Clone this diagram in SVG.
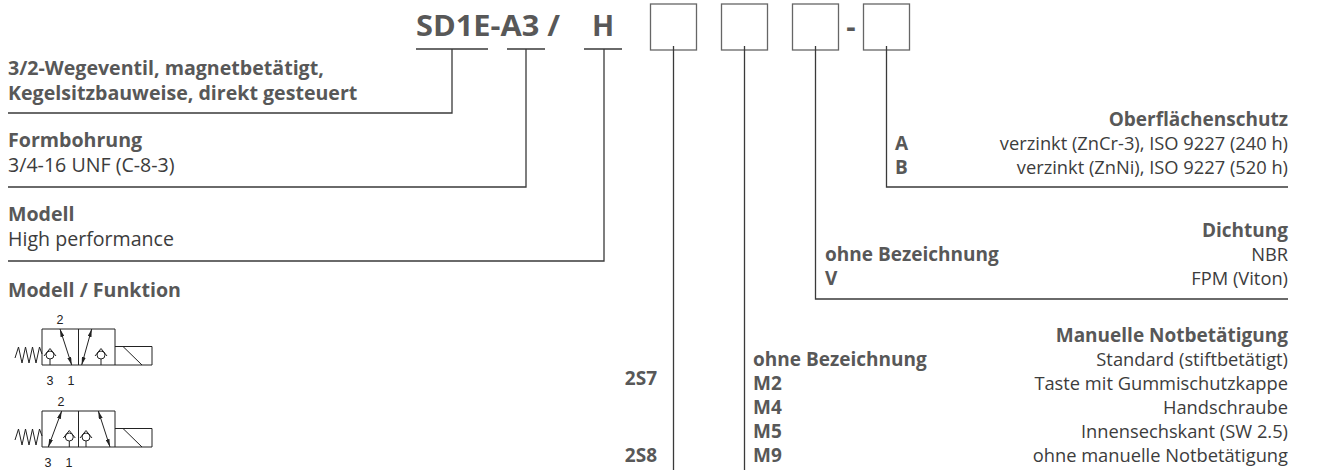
<svg xmlns="http://www.w3.org/2000/svg" width="1340" height="470" viewBox="0 0 1340 470">
<style>
.b{font-family:"Open Sans","Liberation Sans",sans-serif;font-weight:700;font-size:19px;fill:#585858}
.r{font-family:"Open Sans","Liberation Sans",sans-serif;font-weight:400;font-size:18.3px;fill:#3c3c3c}
.L{font-size:19.6px}
.e{text-anchor:end}
.t{font-family:"Open Sans","Liberation Sans",sans-serif;font-weight:700;font-size:29px;fill:#585858}
.n{font-family:"Liberation Sans",Arial,sans-serif;font-size:12.5px;fill:#222;text-anchor:middle}
.box{fill:none;stroke:#666;stroke-width:1.3}
.ln{fill:none;stroke:#3a3a3a;stroke-width:1.3}
.sy{fill:none;stroke:#222;stroke-width:1}
.ar{fill:none;stroke:#222;stroke-width:1;marker-start:url(#ah);marker-end:url(#ah)}
</style>
<defs>
<marker id="ah" viewBox="0 0 8 4" refX="8" refY="2" markerWidth="8" markerHeight="4" markerUnits="userSpaceOnUse" orient="auto-start-reverse">
<path d="M0,0 L8,2 L0,4 z" fill="#222"/>
</marker>
<g id="cv">
<circle cx="0" cy="0" r="4" fill="#fff" stroke="#222" stroke-width="1"/>
<path d="M-6,1 L0,-6.5 L6,1" fill="none" stroke="#222" stroke-width="1"/>
</g>
</defs>
<rect width="1340" height="470" fill="#fff"/>

<g id="code">
<text class="t" x="416" y="36" textLength="144" lengthAdjust="spacingAndGlyphs">SD1E-A3 /</text>
<text class="t" x="603" y="36" text-anchor="middle">H</text>
<text class="t" x="851" y="37" text-anchor="middle">-</text>
</g>

<g id="boxes">
<rect id="box1" class="box" x="650.5" y="4" width="46" height="46"/>
<rect id="box2" class="box" x="721.5" y="4" width="46" height="46"/>
<rect id="box3" class="box" x="792.5" y="4" width="46" height="46"/>
<rect id="box4" class="box" x="863.5" y="4" width="46" height="46"/>
</g>

<g id="connectors">
<path class="ln" d="M416,49 H488 M507,49 H545 M584,49 H622"/>
<path class="ln" d="M452,49 V113 H8"/>
<path class="ln" d="M526,49 V187 H8"/>
<path class="ln" d="M604,49 V261 H8"/>
<path class="ln" d="M673.5,46 V470"/>
<path class="ln" d="M744.5,46 V470"/>
<path class="ln" d="M815.5,46 V299 H1288"/>
<path class="ln" d="M886.5,46 V187 H1288"/>
</g>

<g id="baureihe">
<text class="b L" x="8" y="75">3/2-Wegeventil, magnetbetätigt,</text>
<text class="b L" x="8" y="100">Kegelsitzbauweise, direkt gesteuert</text>
</g>
<g id="formbohrung">
<text class="b L" x="8" y="147">Formbohrung</text>
<text class="r L" x="8" y="172">3/4-16 UNF (C-8-3)</text>
</g>
<g id="modell">
<text class="b L" x="8" y="221">Modell</text>
<text class="r L" x="8" y="246">High performance</text>
</g>
<g id="funktion">
<text class="b L" x="8" y="297">Modell / Funktion</text>
<text class="b e" x="657" y="385">2S7</text>
<text class="b e" x="657" y="462">2S8</text>
</g>

<g id="sym2s7">
<path class="sy" d="M42,329 H115 V365 H42 Z M78.5,329 V365"/>
<path class="sy" d="M115,346.5 H152 V365 H115 M123,346.5 L142,365"/>
<polyline class="sy" points="15,358 18.5,347 22,363 25.5,347 29,363 32.5,347 36,363 39.5,347 42,354"/>
<use href="#cv" x="50" y="355"/>
<path class="sy" d="M50,359 V365"/>
<line class="ar" x1="60" y1="329" x2="71.7" y2="365"/>
<line class="ar" x1="91.7" y1="329" x2="81.7" y2="365"/>
<use href="#cv" x="101" y="355"/>
<path class="sy" d="M101,359 V365"/>
<text class="n" x="60" y="324">2</text>
<text class="n" x="50" y="385">3</text>
<text class="n" x="71" y="385">1</text>
</g>

<g id="sym2s8">
<path class="sy" d="M42,411 H115 V447 H42 Z M78.5,411 V447"/>
<path class="sy" d="M115,428.5 H152 V447 H115 M123,428.5 L142,447"/>
<polyline class="sy" points="15,440 18.5,429 22,445 25.5,429 29,445 32.5,429 36,445 39.5,429 42,436"/>
<line class="ar" x1="48.3" y1="447" x2="61.7" y2="411"/>
<use href="#cv" x="69.3" y="437"/>
<path class="sy" d="M69.3,441 V447"/>
<use href="#cv" x="86" y="437"/>
<path class="sy" d="M86,441 V447"/>
<line class="ar" x1="98.3" y1="411" x2="110" y2="447"/>
<text class="n" x="61" y="406">2</text>
<text class="n" x="48" y="467">3</text>
<text class="n" x="69" y="467">1</text>
</g>

<g id="oberflaeche">
<text class="b e" x="1288" y="126">Oberflächenschutz</text>
<text class="b" x="895" y="150">A</text>
<text class="r e" x="1288" y="150">verzinkt (ZnCr-3), ISO 9227 (240 h)</text>
<text class="b" x="895" y="174">B</text>
<text class="r e" x="1288" y="174">verzinkt (ZnNi), ISO 9227 (520 h)</text>
</g>

<g id="dichtung">
<text class="b e" x="1288" y="237">Dichtung</text>
<text class="b" x="825" y="261">ohne Bezeichnung</text>
<text class="r e" x="1288" y="261">NBR</text>
<text class="b" x="825" y="285">V</text>
<text class="r e" x="1288" y="285">FPM (Viton)</text>
</g>

<g id="notbetaetigung">
<text class="b e" x="1288" y="342">Manuelle Notbetätigung</text>
<text class="b" x="753" y="366">ohne Bezeichnung</text>
<text class="r e" x="1288" y="366">Standard (stiftbetätigt)</text>
<text class="b" x="753" y="390">M2</text>
<text class="r e" x="1288" y="390">Taste mit Gummischutzkappe</text>
<text class="b" x="753" y="414">M4</text>
<text class="r e" x="1288" y="414">Handschraube</text>
<text class="b" x="753" y="438">M5</text>
<text class="r e" x="1288" y="438">Innensechskant (SW 2.5)</text>
<text class="b" x="753" y="462">M9</text>
<text class="r e" x="1288" y="462">ohne manuelle Notbetätigung</text>
</g>
</svg>
